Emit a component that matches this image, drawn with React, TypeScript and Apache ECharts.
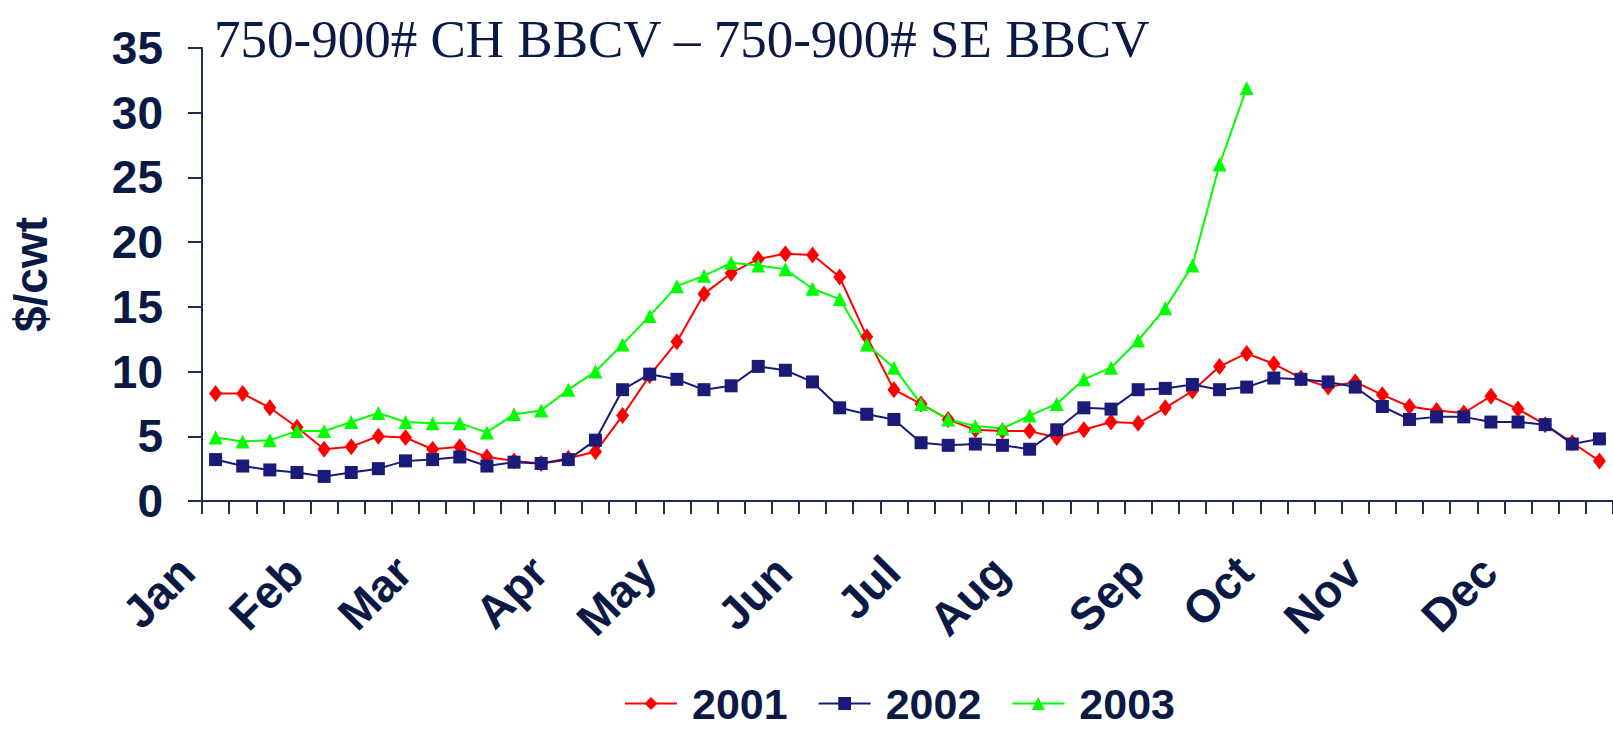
import React, { useEffect, useRef } from "react";
import * as echarts from "echarts";

const titleText = "750-900# CH BBCV \u2013 750-900# SE BBCV";
const yAxisName = "$/cwt";
const weekCount = 52;
const monthLabels = ["Jan", "Feb", "Mar", "Apr", "May", "Jun", "Jul", "Aug", "Sep", "Oct", "Nov", "Dec"];
const monthWeekIndex = [0, 4, 8, 13, 17, 22, 26, 30, 35, 39, 43, 48];

const series2001 = [
  8.3, 8.3, 7.2, 5.7, 4.0, 4.2, 5.0, 4.9, 4.0, 4.2, 3.4, 3.1, 2.9, 3.3, 3.8, 6.6,
  9.7, 12.3, 16.0, 17.6, 18.7, 19.1, 19.0, 17.3, 12.7, 8.6, 7.5, 6.3, 5.5, 5.4, 5.4, 4.9,
  5.5, 6.1, 6.0, 7.2, 8.5, 10.4, 11.4, 10.6, 9.5, 8.8, 9.2, 8.2, 7.3, 7.0, 6.8, 8.1,
  7.1, 5.9, 4.5, 3.1,
];
const series2002 = [
  3.2, 2.7, 2.4, 2.2, 1.9, 2.2, 2.5, 3.1, 3.2, 3.4, 2.7, 3.0, 2.9, 3.2, 4.7, 8.6,
  9.8, 9.4, 8.6, 8.9, 10.4, 10.1, 9.2, 7.2, 6.7, 6.3, 4.5, 4.3, 4.4, 4.3, 4.0, 5.5,
  7.2, 7.1, 8.6, 8.7, 9.0, 8.6, 8.8, 9.5, 9.4, 9.2, 8.8, 7.3, 6.3, 6.5, 6.5, 6.1,
  6.1, 5.9, 4.4, 4.8,
];
const series2003 = [
  4.9, 4.6, 4.7, 5.4, 5.4, 6.1, 6.8, 6.1, 6.0, 6.0, 5.3, 6.7, 7.0, 8.6, 10.0, 12.1,
  14.3, 16.6, 17.4, 18.4, 18.2, 17.9, 16.4, 15.6, 12.1, 10.3, 7.5, 6.3, 5.8, 5.6, 6.6, 7.5,
  9.4, 10.3, 12.4, 14.9, 18.2, 26.0, 31.9,
];
const seriesNames = ["2001", "2002", "2003"];

const INK = "#0b1a45";
const AXIS = "#1f2d55";
const BOLD_FONT = "'Liberation Sans', Arial, sans-serif";

export default function App() {
  const ref = useRef<HTMLDivElement>(null);
  useEffect(() => {
    if (!ref.current) return;
    const chart = echarts.init(ref.current, null, { renderer: "svg" });
    const categories = Array.from({ length: weekCount }, (_, i) => "W" + (i + 1));
    const labelAt: string[] = categories.map(() => "");
    monthWeekIndex.forEach((w, k) => {
      labelAt[w] = monthLabels[k];
    });
    const mk = (name: string, data: number[], color: string, symbol: string, size: any) => ({
      name,
      type: "line",
      data,
      symbol,
      symbolSize: size,
      showSymbol: true,
      lineStyle: { color, width: 2 },
      itemStyle: { color },
      emphasis: { disabled: true },
    });
    chart.setOption({
      animation: false,
      backgroundColor: "#ffffff",
      title: {
        text: titleText,
        left: 214,
        top: 13,
        padding: 0,
        textStyle: {
          fontFamily: "'Liberation Serif', 'Times New Roman', serif",
          fontWeight: "normal",
          fontSize: 53,
          color: INK,
          lineHeight: 52,
        },
      },
      legend: {
        left: 624,
        top: 682,
        padding: 0,
        itemWidth: 52,
        itemHeight: 16,
        itemGap: 30,
        data: seriesNames,
        textStyle: {
          fontFamily: BOLD_FONT,
          fontWeight: "bold",
          fontSize: 43,
          color: INK,
          lineHeight: 34,
          padding: [0, 0, 0, 10],
        },
      },
      grid: { left: 185, right: 0, top: 48, bottom: 231, containLabel: false },
      xAxis: {
        type: "category",
        data: categories,
        boundaryGap: true,
        axisLine: { lineStyle: { color: AXIS, width: 2 } },
        axisTick: { show: true, interval: 0, length: 13, lineStyle: { color: AXIS, width: 2 } },
        axisLabel: {
          interval: 0,
          rotate: 45,
          margin: 34,
          padding: [0, 41, 0, 0],
          fontFamily: BOLD_FONT,
          fontWeight: "bold",
          fontSize: 46,
          color: INK,
          formatter: (_v: string, i: number) => labelAt[i],
        },
        splitLine: { show: false },
      },
      yAxis: {
        type: "value",
        min: 0,
        max: 35,
        interval: 5,
        name: yAxisName,
        nameLocation: "middle",
        nameGap: 148,
        nameRotate: 90,
        nameTextStyle: {
          fontFamily: BOLD_FONT,
          fontWeight: "bold",
          fontSize: 46,
          color: INK,
        },
        axisLine: { show: true, lineStyle: { color: AXIS, width: 2 } },
        axisTick: { show: true, length: 14, lineStyle: { color: AXIS, width: 2 } },
        axisLabel: {
          margin: 39,
          fontFamily: BOLD_FONT,
          fontWeight: "bold",
          fontSize: 46,
          color: INK,
        },
        splitLine: { show: false },
      },
      series: [
        mk(seriesNames[0], series2001, "#ff0000", "diamond", [13, 17]),
        mk(seriesNames[1], series2002, "#1a1a78", "rect", 13),
        mk(seriesNames[2], series2003, "#00ff00", "triangle", 14),
      ],
    });
    return () => chart.dispose();
  }, []);
  return (
    <div
      ref={ref}
      style={{ position: "fixed", left: 0, top: 0, width: 1613, height: 732, background: "#fff" }}
    />
  );
}
